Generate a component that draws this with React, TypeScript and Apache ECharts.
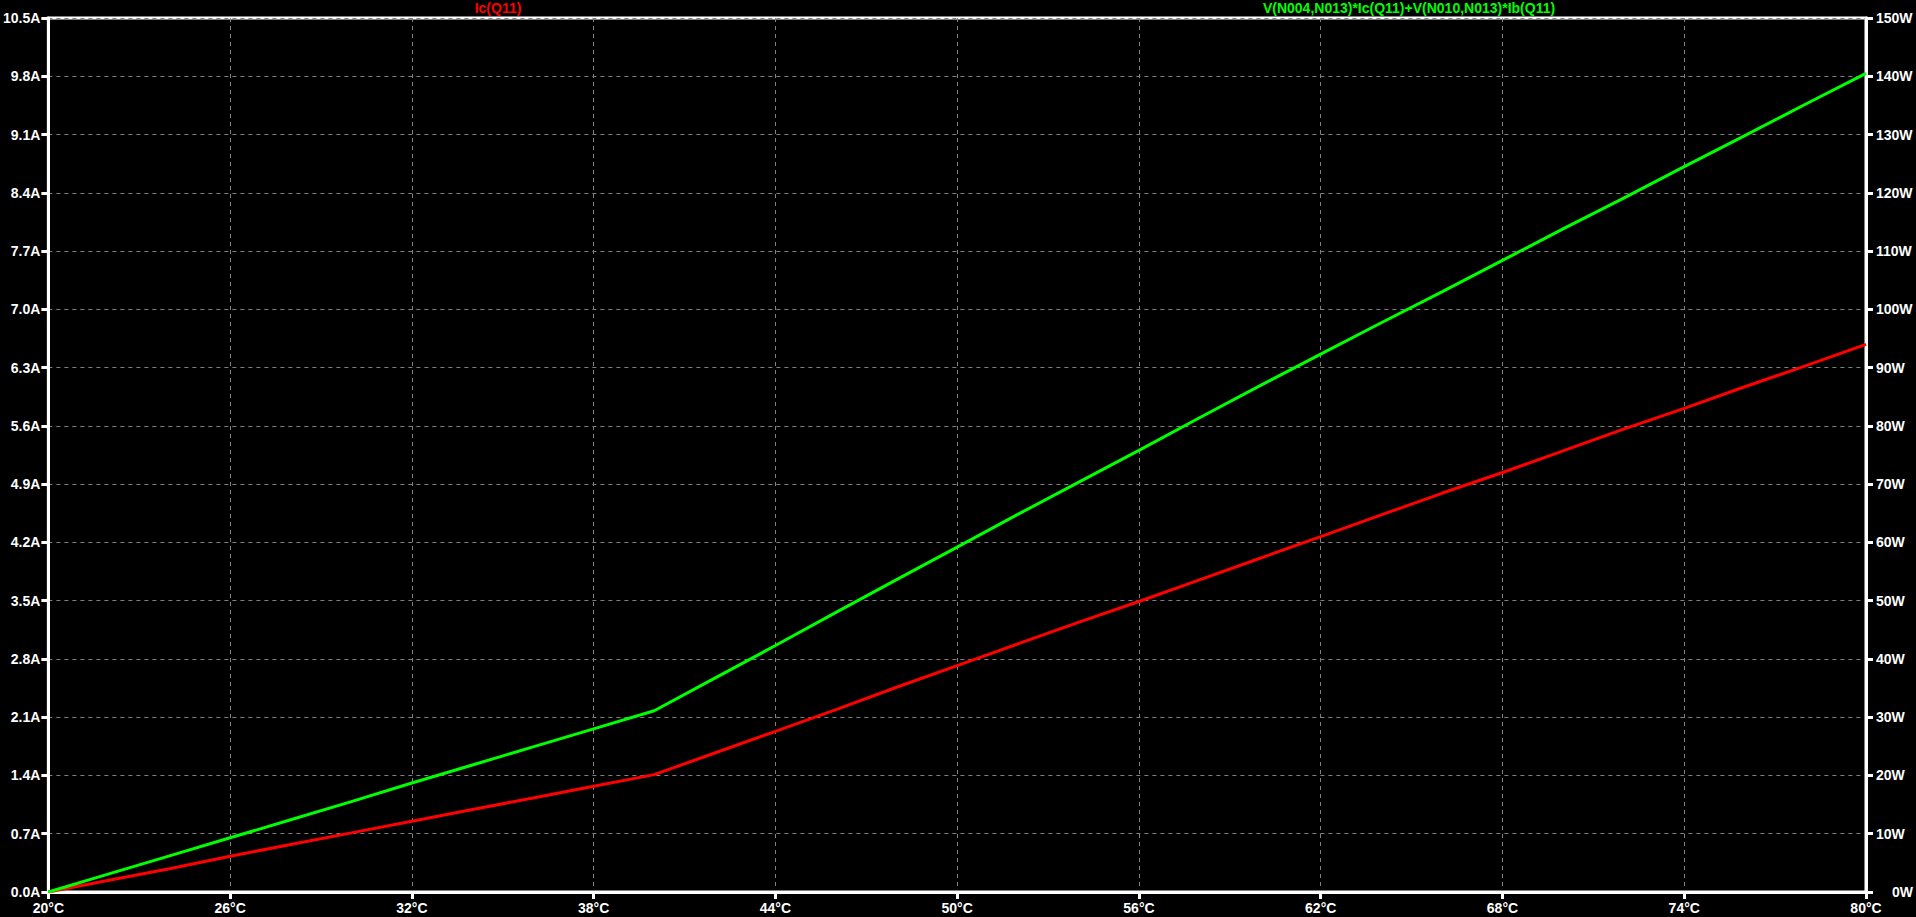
import React, { useEffect, useRef } from "react";
import * as echarts from "echarts";

const temps = [20, 22, 24, 26, 28, 30, 32, 34, 36, 38, 40, 42, 44, 46, 48, 50, 52, 54, 56, 58, 60, 62, 64, 66, 68, 70, 72, 74, 76, 78, 80];

const icQ11 = [0, 0.14, 0.28, 0.43, 0.57, 0.71, 0.85, 0.99, 1.13, 1.27, 1.41, 1.67, 1.93, 2.19, 2.46, 2.72, 2.98, 3.24, 3.49, 3.75, 4.01, 4.27, 4.53, 4.79, 5.04, 5.30, 5.56, 5.81, 6.07, 6.32, 6.58];

const powerQ11 = [0, 3.1, 6.2, 9.3, 12.4, 15.5, 18.7, 21.8, 24.9, 28.0, 31.1, 36.7, 42.3, 48.0, 53.6, 59.2, 64.8, 70.3, 75.8, 81.4, 86.9, 92.3, 97.7, 103.0, 108.4, 113.8, 119.1, 124.5, 129.8, 135.2, 140.5];

const seriesNames = ["Ic(Q11)", "V(N004,N013)*Ic(Q11)+V(N010,N013)*Ib(Q11)"];
const seriesColors = ["#ff0000", "#00ff00"];

const FONT = "Liberation Sans";

export default function App() {
  const ref = useRef<HTMLDivElement>(null);

  useEffect(() => {
    document.body.style.margin = "0";
    document.body.style.background = "#000";
    if (!ref.current) return;
    const chart = echarts.init(ref.current, undefined, { renderer: "svg" });

    const labelStyle = {
      color: "#ffffff",
      fontFamily: FONT,
      fontWeight: "bold" as const,
      fontSize: 14,
    };
    const axisLine = { show: true, lineStyle: { color: "#ffffff", width: 3 } };
    const axisTick = { show: true, length: 7, lineStyle: { color: "#ffffff", width: 3 } };
    const splitLine = { show: true, lineStyle: { color: "#808080", width: 1, type: [4, 4] as number[] } };

    chart.setOption({
      animation: false,
      backgroundColor: "#000000",
      grid: {
        left: 44,
        right: 50,
        top: 18,
        bottom: 25,
        show: true,
        borderColor: "#ffffff",
        borderWidth: 3,
        backgroundColor: "#000000",
      },
      graphic: [
        {
          type: "text",
          x: 498,
          y: 8,
          style: {
            text: seriesNames[0],
            fill: seriesColors[0],
            font: `bold 14px "${FONT}"`,
            textAlign: "center",
            textVerticalAlign: "middle",
          },
        },
        {
          type: "text",
          x: 1409,
          y: 8,
          style: {
            text: seriesNames[1],
            fill: seriesColors[1],
            font: `bold 14px "${FONT}"`,
            textAlign: "center",
            textVerticalAlign: "middle",
          },
        },
      ],
      xAxis: {
        type: "category",
        data: temps.map(String),
        boundaryGap: false,
        axisLine,
        axisTick: { ...axisTick, interval: 2 },
        axisLabel: {
          ...labelStyle,
          interval: 2,
          margin: 9,
          formatter: (v: string) => `${v}°C`,
        },
        splitLine: { ...splitLine, interval: 2 },
      },
      yAxis: [
        {
          type: "value",
          position: "left",
          min: 0,
          max: 10.5,
          interval: 0.7,
          axisLine,
          axisTick,
          axisLabel: {
            ...labelStyle,
            margin: 8,
            formatter: (v: number) => `${v.toFixed(1)}A`,
          },
          splitLine,
        },
        {
          type: "value",
          position: "right",
          min: 0,
          max: 150,
          interval: 10,
          axisLine,
          axisTick,
          axisLabel: {
            ...labelStyle,
            margin: 10,
            formatter: (v: number) => (v === 0 ? "{z|0W}" : `${Math.round(v)}W`),
            rich: {
              z: { ...labelStyle, padding: [0, 0, 0, 16] },
            },
          },
          splitLine: { show: false },
        },
      ],
      series: [
        {
          name: seriesNames[0],
          type: "line",
          yAxisIndex: 0,
          data: icQ11,
          showSymbol: false,
          lineStyle: { color: seriesColors[0], width: 3 },
          itemStyle: { color: seriesColors[0] },
        },
        {
          name: seriesNames[1],
          type: "line",
          yAxisIndex: 1,
          data: powerQ11,
          showSymbol: false,
          lineStyle: { color: seriesColors[1], width: 3 },
          itemStyle: { color: seriesColors[1] },
        },
      ],
    });

    return () => {
      chart.dispose();
    };
  }, []);

  return (
    <div
      ref={ref}
      style={{ position: "absolute", left: 0, top: 0, width: 1916, height: 917, background: "#000" }}
    />
  );
}
